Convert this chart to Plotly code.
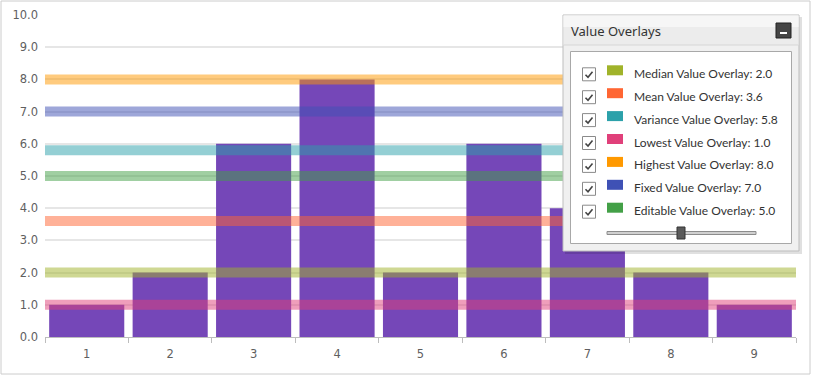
import plotly.graph_objects as go

categories = ["1", "2", "3", "4", "5", "6", "7", "8", "9"]
values = [1, 2, 6, 8, 2, 6, 4, 2, 1]

overlay_names = ["Median", "Mean", "Variance", "Lowest", "Highest", "Fixed", "Editable"]
overlay_values = [2.0, 3.6, 5.8, 1.0, 8.0, 7.0, 5.0]
overlay_colors = ["#a0b32a", "#ff6633", "#2ca1aa", "#e0407a", "#ff9900", "#3f51b5", "#43a047"]

W, H = 814, 375
L, R, T, B = 45, 18, 15, 38
PW, PH = W - L - R, H - T - B


def px(x):
    return (x - L) / PW


def py(y):
    return (H - B - y) / PH


fig = go.Figure()
fig.add_trace(go.Bar(x=categories, y=values, marker=dict(color="#7547b8", line=dict(width=0)),
                     hoverinfo="x+y"))

shapes = []
# overlay bands
for v, c in zip(overlay_values, overlay_colors):
    shapes.append(dict(type="line", xref="paper", yref="y", x0=0, x1=1, y0=v, y1=v,
                       line=dict(color=c, width=10), opacity=0.5, layer="above"))

# outer border
shapes.append(dict(type="rect", xref="paper", yref="paper", x0=px(1), x1=px(810), y0=py(1), y1=py(374),
                   line=dict(color="#cccccc", width=1), fillcolor="rgba(0,0,0,0)", layer="above"))

# panel shadow
shapes.append(dict(type="rect", xref="paper", yref="paper", x0=px(565), x1=px(802), y0=py(17), y1=py(254),
                   line=dict(width=0), fillcolor="rgba(0,0,0,0.12)", layer="above"))
# panel
shapes.append(dict(type="rect", xref="paper", yref="paper", x0=px(563), x1=px(799), y0=py(15), y1=py(251),
                   line=dict(color="#bdbdbd", width=1), fillcolor="#f0f0f0", layer="above"))
# header
shapes.append(dict(type="rect", xref="paper", yref="paper", x0=px(563.5), x1=px(798.5), y0=py(15.5), y1=py(45),
                   line=dict(width=0), fillcolor="#ececec", layer="above"))
shapes.append(dict(type="rect", xref="paper", yref="paper", x0=px(563.5), x1=px(798.5), y0=py(15.5), y1=py(27),
                   line=dict(width=0), fillcolor="#f6f6f6", layer="above"))
shapes.append(dict(type="line", xref="paper", yref="paper", x0=px(563.5), x1=px(798.5), y0=py(45), y1=py(45),
                   line=dict(color="#d6d6d6", width=1), layer="above"))
# minimize button
shapes.append(dict(type="rect", xref="paper", yref="paper", x0=px(776), x1=px(791), y0=py(23), y1=py(38),
                   line=dict(color="#222222", width=1), fillcolor="#454545", layer="above"))
shapes.append(dict(type="line", xref="paper", yref="paper", x0=px(780), x1=px(787), y0=py(33), y1=py(33),
                   line=dict(color="#ffffff", width=2), layer="above"))
# inner box
shapes.append(dict(type="rect", xref="paper", yref="paper", x0=px(570.5), x1=px(791.5), y0=py(51.5), y1=py(243.5),
                   line=dict(color="#a8a8a8", width=1), fillcolor="#ffffff", layer="above"))

annotations = []
annotations.append(dict(x=px(569), y=py(31), xref="paper", yref="paper", text="Value Overlays",
                        showarrow=False, xanchor="left", yanchor="middle",
                        font=dict(family="Noto Sans", size=13, color="#333333")))

row0 = 73.3
step = 22.9
for i, (n, v, c) in enumerate(zip(overlay_names, overlay_values, overlay_colors)):
    yc = row0 + i * step
    # checkbox
    shapes.append(dict(type="rect", xref="paper", yref="paper", x0=px(582.5), x1=px(595.5),
                       y0=py(yc - 5.5), y1=py(yc + 7.5),
                       line=dict(color="#8a8a8a", width=1), fillcolor="#ffffff", layer="above"))
    path = "M {:.5f},{:.5f} L {:.5f},{:.5f} L {:.5f},{:.5f}".format(
        px(585.5), py(yc + 1.5), px(588), py(yc + 4), px(592.5), py(yc - 1.5))
    shapes.append(dict(type="path", xref="paper", yref="paper", path=path,
                       line=dict(color="#444444", width=1.6), layer="above"))
    # swatch
    shapes.append(dict(type="rect", xref="paper", yref="paper", x0=px(607), x1=px(623),
                       y0=py(yc - 8), y1=py(yc + 2),
                       line=dict(width=0), fillcolor=c, layer="above"))
    annotations.append(dict(x=px(632), y=py(yc), xref="paper", yref="paper",
                            text="{} Value Overlay: {:.1f}".format(n, v),
                            showarrow=False, xanchor="left", yanchor="middle",
                            font=dict(family="Lato", size=12, color="#333333")))

# slider
shapes.append(dict(type="rect", xref="paper", yref="paper", x0=px(607), x1=px(756), y0=py(231.5), y1=py(234.5),
                   line=dict(color="#8c8c8c", width=1), fillcolor="#d0d0d0", layer="above"))
shapes.append(dict(type="rect", xref="paper", yref="paper", x0=px(677), x1=px(685), y0=py(227), y1=py(239),
                   line=dict(color="#333333", width=1), fillcolor="#5a5a5a", layer="above"))

fig.update_layout(
    width=W, height=H,
    margin=dict(l=L, r=R, t=T, b=B, pad=0),
    plot_bgcolor="white", paper_bgcolor="white",
    bargap=0.1,
    showlegend=False,
    shapes=shapes,
    annotations=annotations,
    xaxis=dict(type="category", showgrid=False, showline=True, linecolor="#bdbdbd", linewidth=1,
               ticks="outside", tickson="boundaries", ticklen=5, tickcolor="#bdbdbd",
               ticklabelstandoff=6, automargin=False,
               tickfont=dict(family="DejaVu Sans", size=11.5, color="#5f5f5f"), zeroline=False),
    yaxis=dict(range=[0, 10], dtick=1, tickformat=".1f", showgrid=True, gridcolor="#e6e6e6", gridwidth=2,
               zeroline=False, showline=False, ticks="", ticklabelstandoff=6, automargin=False,
               tickfont=dict(family="DejaVu Sans", size=11.5, color="#5f5f5f")),
)

fig.write_html("out.html", config={"displayModeBar": False},
               post_script="document.body.style.margin='0px';document.body.style.overflow='hidden';")
